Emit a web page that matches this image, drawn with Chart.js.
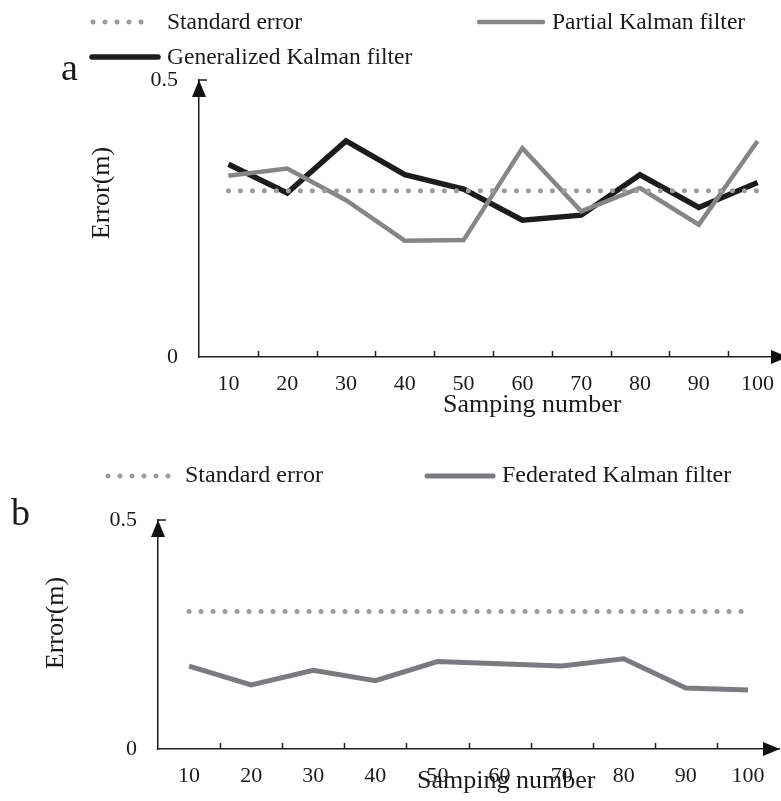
<!DOCTYPE html>
<html>
<head>
<meta charset="utf-8">
<script src="https://cdn.jsdelivr.net/npm/chart.js@4"></script>
<style>
  html, body { margin: 0; padding: 0; background: #fff; width: 781px; height: 801px; overflow: hidden; }
  #wa { position: absolute; left: 0; top: 0; width: 800px; height: 430px; }
  #wb { position: absolute; left: 0; top: 430px; width: 781px; height: 371px; }
</style>
</head>
<body>
<div id="wa"><canvas id="ca" width="800" height="430"></canvas></div>
<div id="wb"><canvas id="cb" width="781" height="371"></canvas></div>
<script>
// ---------- data ----------
const categories = ['10', '20', '30', '40', '50', '60', '70', '80', '90', '100'];
const yTickValues = [0, 0.5];

const standardErrorA    = [0.30, 0.30, 0.30, 0.30, 0.30, 0.30, 0.30, 0.30, 0.30, 0.30];
const partialKalman     = [0.327, 0.340, 0.283, 0.210, 0.211, 0.377, 0.263, 0.305, 0.239, 0.390];
const generalizedKalman = [0.348, 0.296, 0.390, 0.329, 0.303, 0.247, 0.256, 0.329, 0.270, 0.315];

const standardErrorB    = [0.30, 0.30, 0.30, 0.30, 0.30, 0.30, 0.30, 0.30, 0.30, 0.30];
const federatedKalman   = [0.181, 0.140, 0.172, 0.149, 0.191, 0.186, 0.181, 0.197, 0.133, 0.129];

const labelsA = ['Standard error', 'Partial Kalman filter', 'Generalized Kalman filter'];
const labelsB = ['Standard error', 'Federated Kalman filter'];
const xTitle = 'Samping number';
const yTitle = 'Error(m)';

// ---------- styling ----------
const FONT = '"Liberation Serif", "Times New Roman", serif';
Chart.defaults.font.family = FONT;
Chart.defaults.color = '#1a1a1a';
const AXIS = '#1e1e1e';
const TEXT = '#1a1a1a';

function dotted(label, data) {
  return { label, data, borderColor: '#9d9d9d', borderWidth: 5, borderDash: [0, 12],
           borderCapStyle: 'round', pointRadius: 0, tension: 0, fill: false };
}
function solid(label, data, color, width) {
  return { label, data, borderColor: color, borderWidth: width, borderCapStyle: 'butt',
           borderJoinStyle: 'miter', pointRadius: 0, tension: 0, fill: false };
}

function decor(cfg) {
  return {
    id: 'decor',
    afterDraw(chart) {
      const ctx = chart.ctx;
      const xs = chart.scales.x, ys = chart.scales.y;
      const a = chart.chartArea;
      ctx.save();
      // x tick marks (between categories, pointing up)
      ctx.strokeStyle = AXIS; ctx.lineWidth = 1.5; ctx.setLineDash([]);
      const half = (xs.getPixelForValue(1) - xs.getPixelForValue(0)) / 2;
      for (let i = 1; i < categories.length; i++) {
        const px = Math.round(xs.getPixelForValue(i) - half) + 0.5;
        ctx.beginPath(); ctx.moveTo(px, a.bottom); ctx.lineTo(px, a.bottom - 6); ctx.stroke();
      }
      // y tick marks (right of axis)
      ys.ticks.forEach(t => {
        if (t.value > 0) {
          const py = ys.getPixelForValue(t.value);
          ctx.beginPath(); ctx.moveTo(a.left, py); ctx.lineTo(a.left + 8, py); ctx.stroke();
        }
      });
      // arrow heads
      ctx.fillStyle = '#111';
      ctx.beginPath();
      ctx.moveTo(a.left, a.top); ctx.lineTo(a.left - 7, a.top + 17); ctx.lineTo(a.left + 7, a.top + 17);
      ctx.closePath(); ctx.fill();
      const tip = a.right + 1;
      ctx.beginPath();
      ctx.moveTo(tip, a.bottom); ctx.lineTo(tip - 17, a.bottom - 7); ctx.lineTo(tip - 17, a.bottom + 7);
      ctx.closePath(); ctx.fill();

      // legend
      cfg.legend.forEach(it => {
        const ds = chart.data.datasets[it.ds];
        ctx.save();
        ctx.strokeStyle = ds.borderColor; ctx.lineWidth = ds.borderWidth;
        ctx.setLineDash(ds.borderDash || []);
        ctx.lineCap = 'round';
        ctx.beginPath(); ctx.moveTo(it.x1, it.y); ctx.lineTo(it.x2, it.y); ctx.stroke();
        ctx.restore();
        ctx.fillStyle = TEXT;
        ctx.font = cfg.legendSize + 'px ' + FONT; ctx.textAlign = 'left'; ctx.textBaseline = 'alphabetic';
        ctx.fillText(ds.label, it.tx, it.ty);
      });

      // axis titles
      ctx.fillStyle = TEXT;
      ctx.font = '26px ' + FONT; ctx.textAlign = 'left'; ctx.textBaseline = 'alphabetic';
      ctx.fillText(xTitle, cfg.xt[0], cfg.xt[1]);
      ctx.save();
      ctx.translate(cfg.yt[0], cfg.yt[1]); ctx.rotate(-Math.PI / 2);
      ctx.textAlign = 'center'; ctx.textBaseline = 'middle';
      ctx.fillText(yTitle, 0, 0);
      ctx.restore();
      // panel letter
      ctx.font = '38px ' + FONT; ctx.textAlign = 'left'; ctx.textBaseline = 'alphabetic';
      ctx.fillText(cfg.panel, cfg.pp[0], cfg.pp[1]);
      ctx.restore();
    }
  };
}

function makeOptions(pad, yWidth, xHeight) {
  return {
    responsive: false,
    animation: false,
    devicePixelRatio: 1,
    layout: { padding: pad },
    plugins: { legend: { display: false }, tooltip: { enabled: false } },
    scales: {
      x: {
        type: 'category',
        offset: true,
        grid: { display: false, drawTicks: false },
        border: { display: true, color: AXIS, width: 1.5 },
        ticks: { font: { size: 22 }, padding: 14, color: TEXT, maxRotation: 0, autoSkip: false },
        afterFit: s => { s.height = xHeight; }
      },
      y: {
        min: 0, max: 0.5,
        grid: { display: false, drawTicks: false },
        border: { display: true, color: AXIS, width: 1.5 },
        ticks: { font: { size: 22 }, padding: 21, color: TEXT,
                 callback: v => String(v) },
        afterBuildTicks: s => { s.ticks = yTickValues.map(v => ({ value: v })); },
        afterFit: s => { s.width = yWidth; }
      }
    }
  };
}

new Chart(document.getElementById('ca'), {
  type: 'line',
  data: {
    labels: categories,
    datasets: [
      dotted(labelsA[0], standardErrorA),
      solid(labelsA[1], partialKalman, '#868686', 4.5),
      solid(labelsA[2], generalizedKalman, '#1c1c1c', 5.5)
    ]
  },
  options: makeOptions({ left: 0, right: 13, top: 80, bottom: 0 }, 199, 73),
  plugins: [decor({
    legendSize: 23.5,
    legend: [
      { ds: 0, x1: 93, x2: 153, y: 22, tx: 167, ty: 29 },
      { ds: 1, x1: 479, x2: 543, y: 22, tx: 552, ty: 29 },
      { ds: 2, x1: 92, x2: 158, y: 57, tx: 167, ty: 64 }
    ],
    xt: [443, 412],
    yt: [102, 193],
    panel: 'a', pp: [61, 80]
  })]
});

new Chart(document.getElementById('cb'), {
  type: 'line',
  data: {
    labels: categories,
    datasets: [
      dotted(labelsB[0], standardErrorB),
      solid(labelsB[1], federatedKalman, '#7b7b7f', 5)
    ]
  },
  options: makeOptions({ left: 0, right: 2, top: 90, bottom: 0 }, 158, 52),
  plugins: [decor({
    legendSize: 24,
    legend: [
      { ds: 0, x1: 108, x2: 172, y: 46, tx: 185, ty: 52 },
      { ds: 1, x1: 427, x2: 493, y: 46, tx: 502, ty: 52 }
    ],
    xt: [417, 358],
    yt: [56, 193],
    panel: 'b', pp: [11, 95]
  })]
});
</script>
</body>
</html>
